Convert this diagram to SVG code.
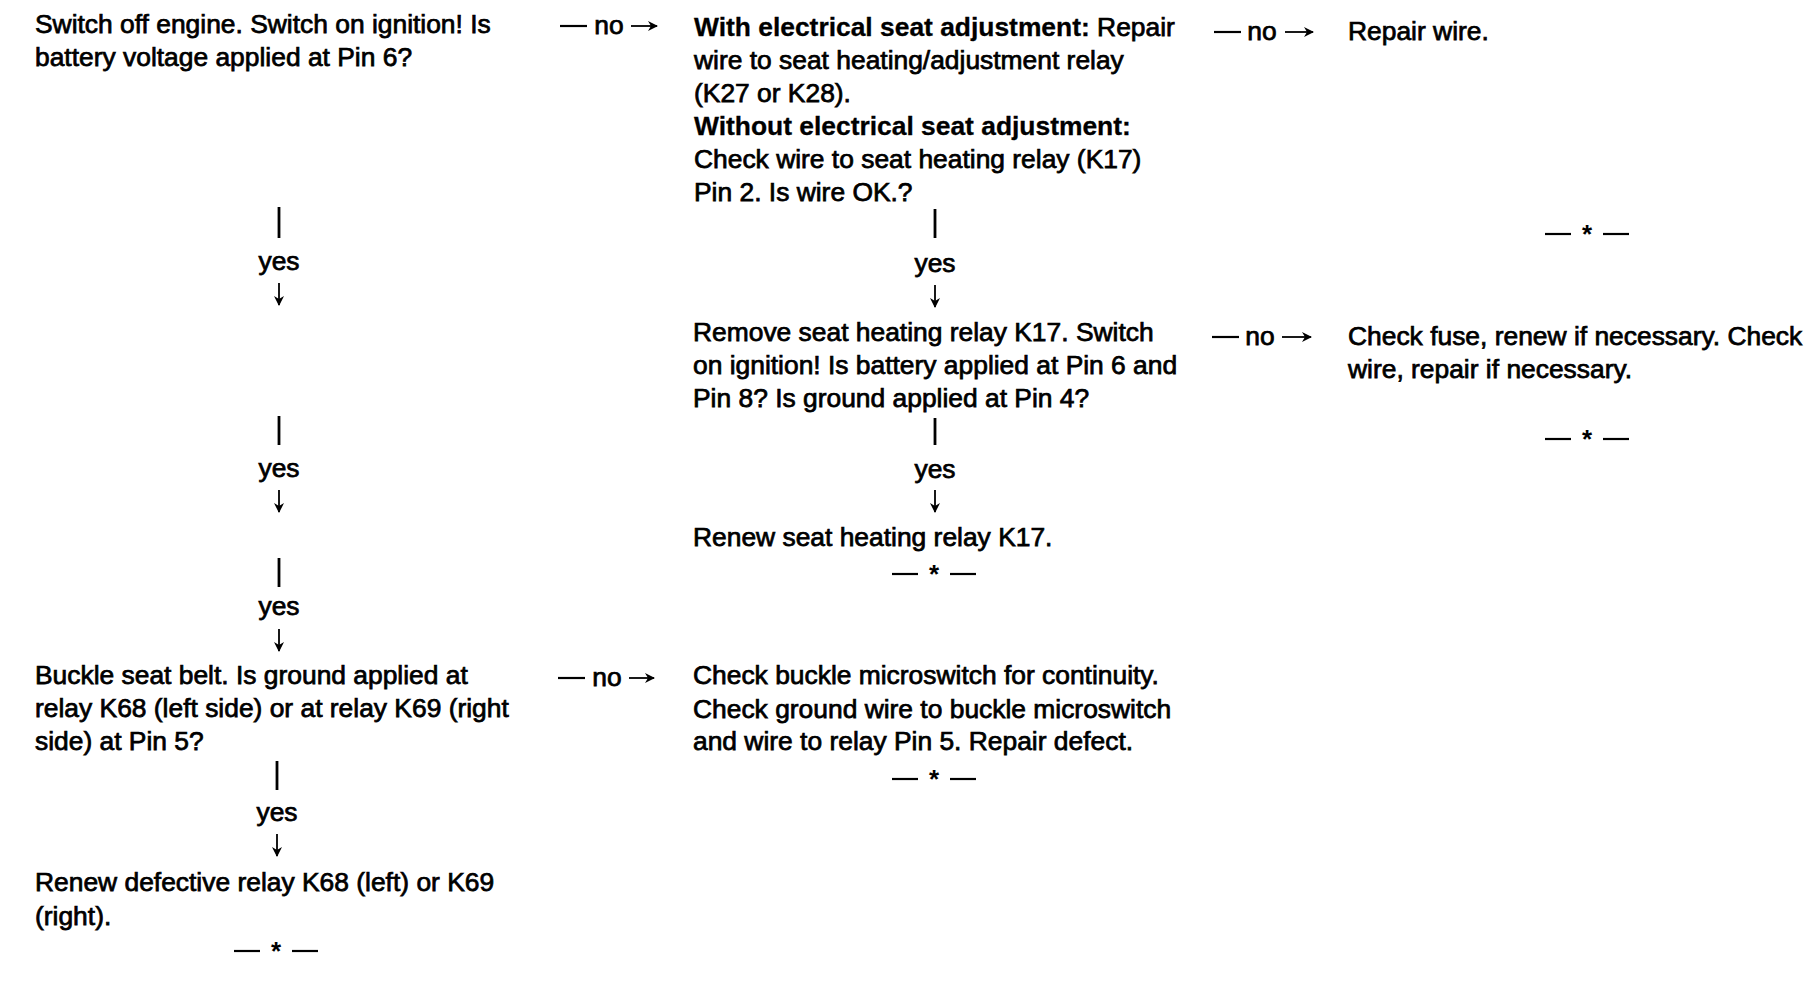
<svg xmlns="http://www.w3.org/2000/svg" width="1820" height="992" viewBox="0 0 1820 992">
<defs>
<marker id="ah" viewBox="0 0 10 10" refX="9" refY="5" markerWidth="10" markerHeight="10" markerUnits="userSpaceOnUse" orient="auto">
<path d="M0,0 L10,5 L0,10 L3,5 Z" fill="#000"/>
</marker>
<style>
.t{font-family:"Liberation Sans",Arial,Helvetica,sans-serif;font-size:26.4px;fill:#000;stroke:#000;stroke-width:0.75}
.b{font-weight:bold;stroke-width:0.3}
.c{text-anchor:middle}
.bar{stroke:#000;stroke-width:2.8;fill:none}
.arr{stroke:#000;stroke-width:1.8;fill:none;marker-end:url(#ah)}
.dash{stroke:#000;stroke-width:2.2;fill:none}
.star{font-family:"Liberation Sans",Arial,sans-serif;font-size:26px;font-weight:bold;fill:#000;text-anchor:middle}
</style>
</defs>
<rect width="1820" height="992" fill="#fff"/>

<g id="n1"><text class="t" x="35" y="33">Switch off engine. Switch on ignition! Is</text><text class="t" x="35" y="66">battery voltage applied at Pin 6?</text></g>

<g id="n2"><text class="t" x="694" y="36"><tspan class="b">With electrical seat adjustment:</tspan> Repair</text>
<text class="t" x="694" y="69">wire to seat heating/adjustment relay</text>
<text class="t" x="694" y="102">(K27 or K28).</text>
<text class="t b" x="694" y="135">Without electrical seat adjustment:</text>
<text class="t" x="694" y="168">Check wire to seat heating relay (K17)</text>
<text class="t" x="694" y="201">Pin 2. Is wire OK.?</text></g>

<g id="n3"><text class="t" x="1348" y="40">Repair wire.</text>
<line class="dash" x1="1545" y1="234" x2="1571" y2="234"/><text class="star" x="1587" y="243">*</text><line class="dash" x1="1603" y1="234" x2="1629" y2="234"/></g>

<g id="n4"><text class="t" x="693" y="341">Remove seat heating relay K17. Switch</text>
<text class="t" x="693" y="374">on ignition! Is battery applied at Pin 6 and</text>
<text class="t" x="693" y="407">Pin 8? Is ground applied at Pin 4?</text></g>

<g id="n5"><text class="t" x="1348" y="345">Check fuse, renew if necessary. Check</text>
<text class="t" x="1348" y="378">wire, repair if necessary.</text>
<line class="dash" x1="1545" y1="439" x2="1571" y2="439"/><text class="star" x="1587" y="448">*</text><line class="dash" x1="1603" y1="439" x2="1629" y2="439"/></g>

<g id="n6"><text class="t" x="693" y="546">Renew seat heating relay K17.</text>
<line class="dash" x1="892" y1="574" x2="918" y2="574"/><text class="star" x="934" y="583">*</text><line class="dash" x1="950" y1="574" x2="976" y2="574"/></g>

<g id="n7"><text class="t" x="35" y="684">Buckle seat belt. Is ground applied at</text>
<text class="t" x="35" y="717">relay K68 (left side) or at relay K69 (right</text>
<text class="t" x="35" y="750">side) at Pin 5?</text></g>

<g id="n8"><text class="t" x="693" y="684">Check buckle microswitch for continuity.</text>
<text class="t" x="693" y="718">Check ground wire to buckle microswitch</text>
<text class="t" x="693" y="750">and wire to relay Pin 5. Repair defect.</text>
<line class="dash" x1="892" y1="779" x2="918" y2="779"/><text class="star" x="934" y="788">*</text><line class="dash" x1="950" y1="779" x2="976" y2="779"/></g>

<g id="n9"><text class="t" x="35" y="891">Renew defective relay K68 (left) or K69</text>
<text class="t" x="35" y="925">(right).</text>
<line class="dash" x1="234" y1="951" x2="260" y2="951"/><text class="star" x="276" y="960">*</text><line class="dash" x1="292" y1="951" x2="318" y2="951"/></g>

<g id="connectors">
<line class="dash" x1="560" y1="26" x2="587" y2="26"/><text class="t c" x="609" y="34">no</text><line class="arr" x1="631" y1="26" x2="657" y2="26"/>
<line class="dash" x1="1214" y1="32" x2="1241" y2="32"/><text class="t c" x="1262" y="40">no</text><line class="arr" x1="1285" y1="32" x2="1313" y2="32"/>
<line class="dash" x1="1212" y1="337" x2="1239" y2="337"/><text class="t c" x="1260" y="345">no</text><line class="arr" x1="1282" y1="337" x2="1311" y2="337"/>
<line class="dash" x1="558" y1="678" x2="585" y2="678"/><text class="t c" x="607" y="686">no</text><line class="arr" x1="629" y1="678" x2="654" y2="678"/>

<line class="bar" x1="279" y1="207" x2="279" y2="238"/><text class="t c" x="279" y="270">yes</text><line class="arr" x1="279" y1="283" x2="279" y2="305"/>
<line class="bar" x1="279" y1="416" x2="279" y2="445"/><text class="t c" x="279" y="477">yes</text><line class="arr" x1="279" y1="490" x2="279" y2="512"/>
<line class="bar" x1="279" y1="558" x2="279" y2="587"/><text class="t c" x="279" y="615">yes</text><line class="arr" x1="279" y1="629" x2="279" y2="651"/>
<line class="bar" x1="277" y1="761" x2="277" y2="790"/><text class="t c" x="277" y="821">yes</text><line class="arr" x1="277" y1="834" x2="277" y2="856"/>

<line class="bar" x1="935" y1="209" x2="935" y2="238"/><text class="t c" x="935" y="272">yes</text><line class="arr" x1="935" y1="285" x2="935" y2="307"/>
<line class="bar" x1="935" y1="418" x2="935" y2="445"/><text class="t c" x="935" y="478">yes</text><line class="arr" x1="935" y1="490" x2="935" y2="512"/>
</g>
</svg>
